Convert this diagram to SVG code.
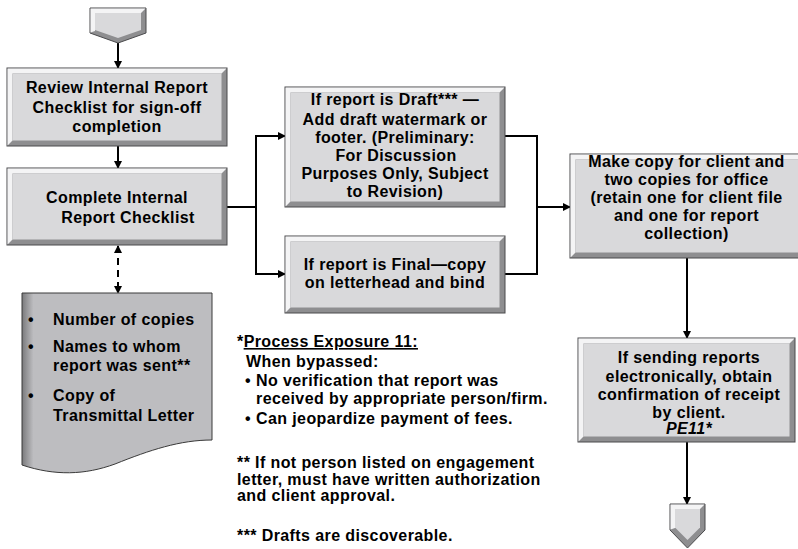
<svg xmlns="http://www.w3.org/2000/svg" width="798" height="549" viewBox="0 0 798 549">
<style>
  text { font-family: "Liberation Sans", Arial, Helvetica, sans-serif; font-weight: bold; font-size: 16px; letter-spacing: 0.4px; fill: #000; }
  .c { text-anchor: middle; }
  .edge { fill: #8e8e90; stroke: #4a4a4c; stroke-width: 1; }
  .hi { fill: #f4f4f5; }
  .face { fill: #d9d9db; }
  .line { fill: none; stroke: #000; stroke-width: 2; }
  .dash { fill: none; stroke: #000; stroke-width: 2; stroke-dasharray: 7 5; }
  .doc { fill: url(#docGrad); stroke: #3a3a3a; stroke-width: 1; }
</style>
<defs>
  <marker id="arr" markerWidth="8" markerHeight="8" refX="7" refY="4" orient="auto" markerUnits="userSpaceOnUse">
    <path d="M0,0 L8,4 L0,8 Z" fill="#000"/>
  </marker>
  <marker id="arrS" markerWidth="8" markerHeight="8" refX="7" refY="4" orient="auto-start-reverse" markerUnits="userSpaceOnUse">
    <path d="M0,0 L8,4 L0,8 Z" fill="#000"/>
  </marker>
  <linearGradient id="docGrad" x1="0" y1="0" x2="1" y2="0">
    <stop offset="0" stop-color="#7a7a7c"/>
    <stop offset="0.06" stop-color="#bdbdc0"/>
    <stop offset="1" stop-color="#bdbdc0"/>
  </linearGradient>
</defs>

<g id="connectors">
  <line class="line" x1="118" y1="43" x2="118" y2="68" marker-end="url(#arr)"/>
  <line class="line" x1="118" y1="146" x2="118" y2="168" marker-end="url(#arr)"/>
  <line class="dash" x1="118" y1="246" x2="118" y2="293" marker-start="url(#arrS)" marker-end="url(#arr)"/>
  <polyline class="line" points="227,207 256,207"/>
  <polyline class="line" points="285,136 256,136 256,274 285,274" marker-end="url(#arr)"/>
  <line class="line" x1="256" y1="136" x2="285" y2="136" marker-end="url(#arr)"/>
  <polyline class="line" points="505,136 537,136 537,274 505,274"/>
  <line class="line" x1="537" y1="207" x2="570" y2="207" marker-end="url(#arr)"/>
  <line class="line" x1="687" y1="258" x2="687" y2="338" marker-end="url(#arr)"/>
  <line class="line" x1="687" y1="442" x2="687" y2="504" marker-end="url(#arr)"/>
</g>

<g id="start">
  <polygon class="edge" points="90,8 146,8 146,33 118,43 90,33"/>
  <polygon class="hi" points="90.5,8.5 145.5,8.5 141,13 95,13 95,31 90.5,32.5"/>
  <polygon class="face" points="95,13 141,13 141,30 118,38 95,30"/>
</g>

<g id="review">
  <rect class="edge" x="7" y="68" width="220" height="78"/>
  <polygon class="hi" points="7.5,68.5 226.5,68.5 221.5,73.5 12.5,73.5 12.5,140.5 7.5,145.5"/>
  <rect class="face" x="12.5" y="73.5" width="209" height="67"/>
  <text class="c" x="117" y="93">Review Internal Report</text>
  <text class="c" x="117" y="112.5">Checklist for sign-off</text>
  <text class="c" x="117" y="132">completion</text>
</g>

<g id="complete">
  <rect class="edge" x="7" y="168" width="220" height="77"/>
  <polygon class="hi" points="7.5,168.5 226.5,168.5 221.5,173.5 12.5,173.5 12.5,239.5 7.5,244.5"/>
  <rect class="face" x="12.5" y="173.5" width="209" height="66"/>
  <text class="c" x="117" y="203">Complete Internal</text>
  <text class="c" x="128" y="222.5">Report Checklist</text>
</g>

<g id="doclist">
  <path class="doc" d="M22,293 H212 V440 C180,440 150,450 115,464 C85,475 55,476 22,465 Z"/>
  <text x="28" y="325">•</text><text x="53" y="325">Number of copies</text>
  <text x="28" y="352">•</text><text x="53" y="352">Names to whom</text>
  <text x="53" y="371">report was sent**</text>
  <text x="28" y="401">•</text><text x="53" y="401">Copy of</text>
  <text x="53" y="420.5">Transmittal Letter</text>
</g>

<g id="draft">
  <rect class="edge" x="285" y="87" width="220" height="120"/>
  <polygon class="hi" points="285.5,87.5 504.5,87.5 499.5,92.5 290.5,92.5 290.5,201.5 285.5,206.5"/>
  <rect class="face" x="290.5" y="92.5" width="209" height="109"/>
  <text class="c" x="395" y="105">If report is Draft*** —</text>
  <text class="c" x="395" y="124.5">Add draft watermark or</text>
  <text class="c" x="395" y="142.5">footer. (Preliminary:</text>
  <text class="c" x="396" y="160.5">For Discussion</text>
  <text class="c" x="395" y="178.5">Purposes Only, Subject</text>
  <text class="c" x="395" y="196.5">to Revision)</text>
</g>

<g id="final">
  <rect class="edge" x="285" y="236" width="220" height="77"/>
  <polygon class="hi" points="285.5,236.5 504.5,236.5 499.5,241.5 290.5,241.5 290.5,307.5 285.5,312.5"/>
  <rect class="face" x="290.5" y="241.5" width="209" height="66"/>
  <text class="c" x="395" y="270">If report is Final—copy</text>
  <text class="c" x="395" y="288">on letterhead and bind</text>
</g>

<g id="makecopy">
  <rect class="edge" x="570" y="154" width="232" height="104"/>
  <polygon class="hi" points="570.5,154.5 802,154.5 802,159.5 575.5,159.5 575.5,252.5 570.5,257.5"/>
  <rect class="face" x="575.5" y="159.5" width="226" height="93"/>
  <text class="c" x="686.5" y="166.5">Make copy for client and</text>
  <text class="c" x="686.5" y="184.5">two copies for office</text>
  <text class="c" x="686.5" y="202.5">(retain one for client file</text>
  <text class="c" x="686.5" y="220.5">and one for report</text>
  <text class="c" x="686.5" y="238.5">collection)</text>
</g>

<g id="electronic">
  <rect class="edge" x="578" y="338" width="217" height="104"/>
  <polygon class="hi" points="578.5,338.5 794.5,338.5 789.5,343.5 583.5,343.5 583.5,436.5 578.5,441.5"/>
  <rect class="face" x="583.5" y="343.5" width="206" height="93"/>
  <text class="c" x="689" y="363">If sending reports</text>
  <text class="c" x="689" y="381.5">electronically, obtain</text>
  <text class="c" x="689" y="400">confirmation of receipt</text>
  <text class="c" x="689" y="418">by client.</text>
  <text class="c" x="689" y="433.5" font-style="italic">PE11*</text>
</g>

<g id="end">
  <polygon class="edge" points="670,504 705,504 705,530 687.5,548 670,530"/>
  <polygon class="hi" points="670.5,504.5 704.5,504.5 700,509 675,509 675,528 670.5,529.5"/>
  <polygon class="face" points="675,509 700,509 700,527.5 687.5,540 675,527.5"/>
</g>

<g id="notes">
  <text x="237" y="347">*<tspan text-decoration="underline">Process Exposure 11:</tspan></text>
  <text x="246" y="367">When bypassed:</text>
  <text x="245" y="386">•</text><text x="256" y="386">No verification that report was</text>
  <text x="256" y="404">received by appropriate person/firm.</text>
  <text x="245" y="424">•</text><text x="256" y="424">Can jeopardize payment of fees.</text>
  <text x="237" y="468">** If not person listed on engagement</text>
  <text x="237" y="484.5">letter, must have written authorization</text>
  <text x="237" y="501">and client approval.</text>
  <text x="237" y="541">*** Drafts are discoverable.</text>
</g>
</svg>
